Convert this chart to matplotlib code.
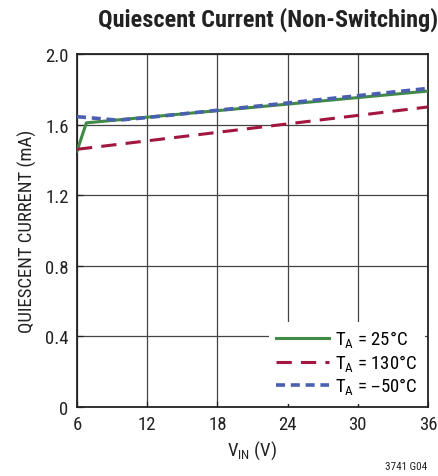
import matplotlib
matplotlib.use("Agg")
import matplotlib.pyplot as plt
from matplotlib import font_manager

# Data
vin_25 = [6, 6.8, 36]
iq_25 = [1.45, 1.61, 1.79]
vin_130 = [6, 36]
iq_130 = [1.46, 1.70]
vin_m50 = [6, 9.5, 12, 36]
iq_m50 = [1.645, 1.625, 1.64, 1.805]
xticks = [6, 12, 18, 24, 30, 36]
yticks = [0, 0.4, 0.8, 1.2, 1.6, 2.0]
ytick_labels = ["0", "0.4", "0.8", "1.2", "1.6", "2.0"]

names = {f.name for f in font_manager.fontManager.ttflist}
base = "Roboto"
for cand in ["Liberation Sans Narrow", "Roboto Condensed", "Open Sans Condensed"]:
    if cand in names:
        base = cand
        break
plt.rcParams['font.family'] = [base, 'DejaVu Sans']

fig = plt.figure(figsize=(4.39, 4.77), dpi=100)
ax = fig.add_axes([77/439, 1 - 408/477, 351/439, 353/477])

ax.plot(vin_25, iq_25, color="#3f8a45", lw=2.2, label="T$_\\mathregular{A}$ = 25°C", zorder=3)
ax.plot(vin_130, iq_130, color="#a3163f", lw=2.2, dashes=(5, 3), label="T$_\\mathregular{A}$ = 130°C", zorder=3)
ax.plot(vin_m50, iq_m50, color="#4a5fb0", lw=2.6, dashes=(2.5, 1.6), label="T$_\\mathregular{A}$ = –50°C", zorder=3)

ax.set_xlim(6, 36)
ax.set_ylim(0, 2.0)
ax.set_xticks(xticks)
ax.set_yticks(yticks)
ax.set_yticklabels(ytick_labels)
ax.grid(True, color="#444444", lw=0.9)
ax.tick_params(direction="in", length=4, width=0.9, labelsize=13.5, colors="#222222", pad=6)
for s in ax.spines.values():
    s.set_linewidth(1.3)
    s.set_color("#222222")

ax.set_xlabel("V$_\\mathregular{IN}$ (V)", fontsize=13.5, color="#222222", labelpad=4)
ax.set_ylabel("QUIESCENT CURRENT (mA)", fontsize=13.5, color="#222222", labelpad=6)

leg = ax.legend(loc="lower right", fontsize=13.5, frameon=True, fancybox=False,
                edgecolor="none", facecolor="white", framealpha=1, handlelength=2.8,
                borderaxespad=0.15, labelspacing=0.1, handletextpad=0.35,
                borderpad=0.4)

fig.text(268/439, 1 - 20/477, "Quiescent Current (Non-Switching)", ha="center", va="center",
         fontsize=17.5, fontweight="bold", color="#222222")
fig.text(427/439, 1 - 467/477, "3741 G04", ha="right", va="center", fontsize=8, color="#222222")

fig.savefig("out.png", dpi=100)
